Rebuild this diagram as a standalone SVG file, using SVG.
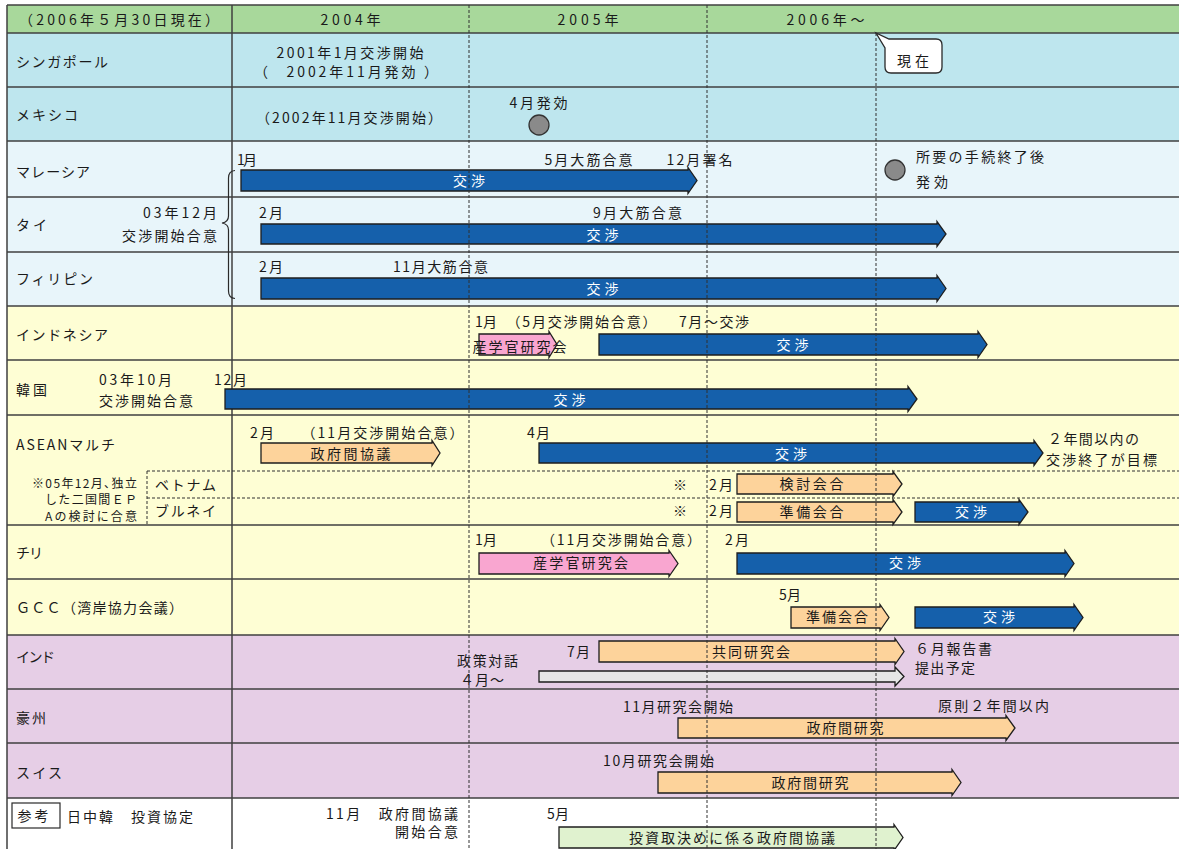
<svg xmlns="http://www.w3.org/2000/svg" width="1179" height="849" viewBox="0 0 1179 849">
<defs>
<style>
text{font-family:"Noto Sans CJK JP","Noto Sans CJK SC",sans-serif;font-size:14px;fill:#1a1a1a}
.w{fill:#ffffff}
.s{font-size:12px}
.m{text-anchor:middle}
.grid{stroke:#404040;stroke-width:1.5;fill:none}
.dash{stroke:#303030;stroke-width:1;stroke-dasharray:3 2;fill:none}
.bar{stroke:#1e1e1e;stroke-width:1.3;stroke-linejoin:miter}
.blue{fill:#1560ab}
.orange{fill:#fdd39b}
.pink{fill:#f9a6d0}
.green{fill:#e0f2cf}
.gray{fill:#e6e6e6}
.dot{fill:#8a8a8a;stroke:#333333;stroke-width:1.3}
</style>
</defs>
<rect x="0" y="0" width="1179" height="849" fill="#ffffff"/>
<g id="backgrounds">
<rect x="7" y="5" width="1172" height="28" fill="#a8d89b"/>
<rect x="7" y="33" width="1172" height="108" fill="#bee6ee"/>
<rect x="7" y="141" width="1172" height="165" fill="#e8f5fa"/>
<rect x="7" y="306" width="1172" height="329" fill="#fefed4"/>
<rect x="7" y="635" width="1172" height="163" fill="#e6cee6"/>
<rect x="7" y="798" width="1172" height="51" fill="#ffffff"/>
</g>
<g id="grid">
<path class="grid" d="M7 5H1179M7 5V849M232 5V849M7 33H1179M7 87H1179M7 141H1179M7 197H1179M7 252H1179M7 306H1179M7 360H1179M7 415H1179M7 525H1179M7 579H1179M7 635H1179M7 689H1179M7 743H1179M7 798H1179"/>
<path class="dash" d="M147 471H1179M147 498H1179M147 471V525"/>
</g>
<g id="header">
<text class="m" x="119" y="25" textLength="200" lengthAdjust="spacing">（2006年５月30日現在）</text>
<text class="m" x="350.5" y="25" textLength="60" lengthAdjust="spacing">2004年</text>
<text class="m" x="588" y="25" textLength="61" lengthAdjust="spacing">2005年</text>
<text class="m" x="825.5" y="25" textLength="78" lengthAdjust="spacing">2006年～</text>
</g>
<g id="row-singapore">
<text x="16" y="67" textLength="92" lengthAdjust="spacing">シンガポール</text>
<text class="m" x="350" y="58" textLength="147" lengthAdjust="spacing">2001年1月交渉開始</text>
<text x="254" y="77">（</text>
<text class="m" x="351" y="77" textLength="129" lengthAdjust="spacing">2002年11月発効</text>
<text x="424" y="77">）</text>
</g>
<g id="callout-now">
<path d="M893 39H936Q942 39 942 45V67Q942 73 936 73H891Q885 73 885 67V48L876 33L889 39Z" fill="#ffffff" stroke="#2a2a2a" stroke-width="1.3"/>
<text x="897" y="66" textLength="32" lengthAdjust="spacing">現在</text>
</g>
<g id="row-mexico">
<text x="16" y="120" textLength="62" lengthAdjust="spacing">メキシコ</text>
<text class="m" x="349" y="123" textLength="186" lengthAdjust="spacing">（2002年11月交渉開始）</text>
<text class="m" x="538.5" y="108" textLength="58" lengthAdjust="spacing">4月発効</text>
<circle class="dot" cx="539" cy="125" r="10"/>
</g>
<g id="row-malaysia">
<text x="16" y="177" textLength="74" lengthAdjust="spacing">マレーシア</text>
<text x="237" y="165" textLength="20" lengthAdjust="spacing">1月</text>
<text class="m" x="588.5" y="165" textLength="88" lengthAdjust="spacing">5月大筋合意</text>
<text class="m" x="699.5" y="165" textLength="66" lengthAdjust="spacing">12月署名</text>
<polygon class="bar blue" points="241,170 688,170 688,167.5 697,180.5 688,193.5 688,191 241,191"/>
<text class="m w" x="469" y="186" textLength="32" lengthAdjust="spacing">交渉</text>
<circle class="dot" cx="895" cy="170" r="10"/>
<text x="916" y="162" textLength="128" lengthAdjust="spacing">所要の手続終了後</text>
<text x="916" y="187" textLength="32" lengthAdjust="spacing">発効</text>
</g>
<g id="row-thailand">
<text x="16" y="230" textLength="31" lengthAdjust="spacing">タイ</text>
<text x="143" y="218" textLength="74" lengthAdjust="spacing">03年12月</text>
<text x="122" y="241" textLength="95" lengthAdjust="spacing">交渉開始合意</text>
<text x="259" y="218" textLength="24" lengthAdjust="spacing">2月</text>
<text x="593" y="218" textLength="89" lengthAdjust="spacing">9月大筋合意</text>
<polygon class="bar blue" points="261,224 937,224 937,221.5 946,234 937,246.5 937,244 261,244"/>
<text class="m w" x="602.5" y="240" textLength="32" lengthAdjust="spacing">交渉</text>
</g>
<g id="row-philippines">
<text x="16" y="284" textLength="77" lengthAdjust="spacing">フィリピン</text>
<text x="259" y="272" textLength="24" lengthAdjust="spacing">2月</text>
<text x="393" y="272" textLength="95" lengthAdjust="spacing">11月大筋合意</text>
<polygon class="bar blue" points="261,278 937,278 937,275.5 946,288.5 937,301.5 937,299 261,299"/>
<text class="m w" x="602.5" y="294" textLength="32" lengthAdjust="spacing">交渉</text>
</g>
<g id="row-indonesia">
<text x="16" y="340" textLength="92" lengthAdjust="spacing">インドネシア</text>
<text x="475" y="327" textLength="22" lengthAdjust="spacing">1月</text>
<text class="m" x="581.5" y="327" textLength="150" lengthAdjust="spacing">（5月交渉開始合意）</text>
<text x="679" y="327" textLength="70" lengthAdjust="spacing">7月～交渉</text>
<polygon class="bar pink" points="479,334 549,334 549,331.5 557,344.5 549,357.5 549,355 479,355"/>
<text class="m" x="519.5" y="352" textLength="94" lengthAdjust="spacing">産学官研究会</text>
<polygon class="bar blue" points="599,334 978,334 978,331.5 987,344.5 978,357.5 978,355 599,355"/>
<text class="m w" x="792.5" y="350" textLength="32" lengthAdjust="spacing">交渉</text>
</g>
<g id="row-korea">
<text x="16" y="395" textLength="31" lengthAdjust="spacing">韓国</text>
<text x="99" y="385" textLength="73" lengthAdjust="spacing">03年10月</text>
<text x="99" y="406" textLength="94" lengthAdjust="spacing">交渉開始合意</text>
<text x="214" y="385" textLength="33" lengthAdjust="spacing">12月</text>
<polygon class="bar blue" points="225,389 908,389 908,386.5 917,399 908,411.5 908,409 225,409"/>
<text class="m w" x="569.5" y="405" textLength="32" lengthAdjust="spacing">交渉</text>
</g>
<g id="row-asean">
<text x="16" y="450" textLength="99" lengthAdjust="spacing">ASEANマルチ</text>
<text x="250" y="438" textLength="24" lengthAdjust="spacing">2月</text>
<text class="m" x="382.5" y="438" textLength="162" lengthAdjust="spacing">（11月交渉開始合意）</text>
<polygon class="bar orange" points="261,443 432,443 432,440.5 440,453 432,465.5 432,463 261,463"/>
<text class="m" x="350.5" y="459" textLength="80" lengthAdjust="spacing">政府間協議</text>
<text x="527" y="438" textLength="23" lengthAdjust="spacing">4月</text>
<polygon class="bar blue" points="539,443 1034,443 1034,440.5 1043,453 1034,465.5 1034,463 539,463"/>
<text class="m w" x="791" y="459" textLength="32" lengthAdjust="spacing">交渉</text>
<text x="1048" y="444" textLength="91" lengthAdjust="spacing">２年間以内の</text>
<text x="1046" y="465" textLength="111" lengthAdjust="spacing">交渉終了が目標</text>
<text class="s" x="32" y="488" textLength="105" lengthAdjust="spacing">※05年12月､独立</text>
<text class="s" x="45" y="504" textLength="92" lengthAdjust="spacing">した二国間ＥＰ</text>
<text class="s" x="45" y="521" textLength="92" lengthAdjust="spacing">Aの検討に合意</text>
</g>
<g id="row-vietnam">
<text x="155" y="490" textLength="61" lengthAdjust="spacing">ベトナム</text>
<text x="673" y="490">※</text>
<text x="709" y="490" textLength="24" lengthAdjust="spacing">2月</text>
<polygon class="bar orange" points="737,474 893,474 893,471.5 902,484 893,496.5 893,494 737,494"/>
<text class="m" x="811.5" y="489" textLength="64" lengthAdjust="spacing">検討会合</text>
</g>
<g id="row-brunei">
<text x="155" y="516" textLength="61" lengthAdjust="spacing">ブルネイ</text>
<text x="673" y="516">※</text>
<text x="709" y="516" textLength="24" lengthAdjust="spacing">2月</text>
<polygon class="bar orange" points="737,502 893,502 893,499.5 902,512 893,524.5 893,522 737,522"/>
<text class="m" x="811.5" y="517" textLength="64" lengthAdjust="spacing">準備会合</text>
<polygon class="bar blue" points="915,502 1019,502 1019,499.5 1028,512 1019,524.5 1019,522 915,522"/>
<text class="m w" x="971" y="517" textLength="32" lengthAdjust="spacing">交渉</text>
</g>
<g id="row-chile">
<text x="16" y="558" textLength="27" lengthAdjust="spacing">チリ</text>
<text x="475" y="545" textLength="22" lengthAdjust="spacing">1月</text>
<text class="m" x="621" y="545" textLength="160" lengthAdjust="spacing">（11月交渉開始合意）</text>
<text x="725" y="545" textLength="24" lengthAdjust="spacing">2月</text>
<polygon class="bar pink" points="479,553 669,553 669,550.5 678,563.5 669,576.5 669,574 479,574"/>
<text class="m" x="580.5" y="568" textLength="95" lengthAdjust="spacing">産学官研究会</text>
<polygon class="bar blue" points="737,553 1065,553 1065,550.5 1074,563.5 1065,576.5 1065,574 737,574"/>
<text class="m w" x="905" y="568" textLength="32" lengthAdjust="spacing">交渉</text>
</g>
<g id="row-gcc">
<text x="16" y="613" textLength="167" lengthAdjust="spacing">ＧＣＣ（湾岸協力会議）</text>
<text x="779" y="600" textLength="22" lengthAdjust="spacing">5月</text>
<polygon class="bar orange" points="791,607 880,607 880,604.5 889,617.5 880,630.5 880,628 791,628"/>
<text class="m" x="837" y="622" textLength="62" lengthAdjust="spacing">準備会合</text>
<polygon class="bar blue" points="915,607 1074,607 1074,604.5 1083,617.5 1074,630.5 1074,628 915,628"/>
<text class="m w" x="999" y="622" textLength="32" lengthAdjust="spacing">交渉</text>
</g>
<g id="row-india">
<text x="16" y="662" textLength="39" lengthAdjust="spacing">インド</text>
<text x="567" y="657" textLength="23" lengthAdjust="spacing">7月</text>
<polygon class="bar orange" points="599,641 895,641 895,638.5 904,651.5 895,664.5 895,662 599,662"/>
<text class="m" x="751" y="657" textLength="78" lengthAdjust="spacing">共同研究会</text>
<text x="457" y="666" textLength="61" lengthAdjust="spacing">政策対話</text>
<text x="460" y="685" textLength="44" lengthAdjust="spacing">４月～</text>
<polygon class="bar gray" points="539,671 895,671 895,667 904,676.5 895,686 895,682 539,682"/>
<text x="915" y="654" textLength="77" lengthAdjust="spacing">６月報告書</text>
<text x="915" y="673" textLength="60" lengthAdjust="spacing">提出予定</text>
</g>
<g id="row-australia">
<text x="16" y="723" textLength="30" lengthAdjust="spacing">豪州</text>
<text x="623" y="712" textLength="110" lengthAdjust="spacing">11月研究会開始</text>
<polygon class="bar orange" points="678,718 1006,718 1006,715.5 1015,728 1006,740.5 1006,738 678,738"/>
<text class="m" x="845" y="733" textLength="77" lengthAdjust="spacing">政府間研究</text>
<text x="938" y="711" textLength="111" lengthAdjust="spacing">原則２年間以内</text>
</g>
<g id="row-switzerland">
<text x="16" y="778" textLength="46" lengthAdjust="spacing">スイス</text>
<text x="603" y="766" textLength="111" lengthAdjust="spacing">10月研究会開始</text>
<polygon class="bar orange" points="658,772 952,772 952,769.5 961,782.5 952,795.5 952,793 658,793"/>
<text class="m" x="810" y="788" textLength="77" lengthAdjust="spacing">政府間研究</text>
</g>
<g id="row-reference">
<rect x="12" y="803" width="48" height="25" fill="#ffffff" stroke="#2a2a2a" stroke-width="1.2"/>
<text class="m" x="33" y="821" textLength="31" lengthAdjust="spacing">参考</text>
<text x="67" y="822" textLength="126" lengthAdjust="spacing">日中韓　投資協定</text>
<text x="326" y="819" textLength="132" lengthAdjust="spacing">11月　政府間協議</text>
<text x="395" y="837" textLength="63" lengthAdjust="spacing">開始合意</text>
<text x="547" y="819" textLength="22" lengthAdjust="spacing">5月</text>
<polygon class="bar green" points="559,827 894,827 894,824.5 903,837.5 894,850.5 894,848 559,848"/>
<text class="m" x="732" y="843" textLength="206" lengthAdjust="spacing">投資取決めに係る政府間協議</text>
</g>
<g id="connectors">
<path d="M235 170.5Q228.5 171 228.5 178V216Q228.5 222 222 223Q228.5 224 228.5 230V291Q228.5 298 235 298.5" fill="none" stroke="#2a2a2a" stroke-width="1.2"/>
<path class="dash" d="M469 5V849M707 5V849M876 33V849"/>
</g>
</svg>
